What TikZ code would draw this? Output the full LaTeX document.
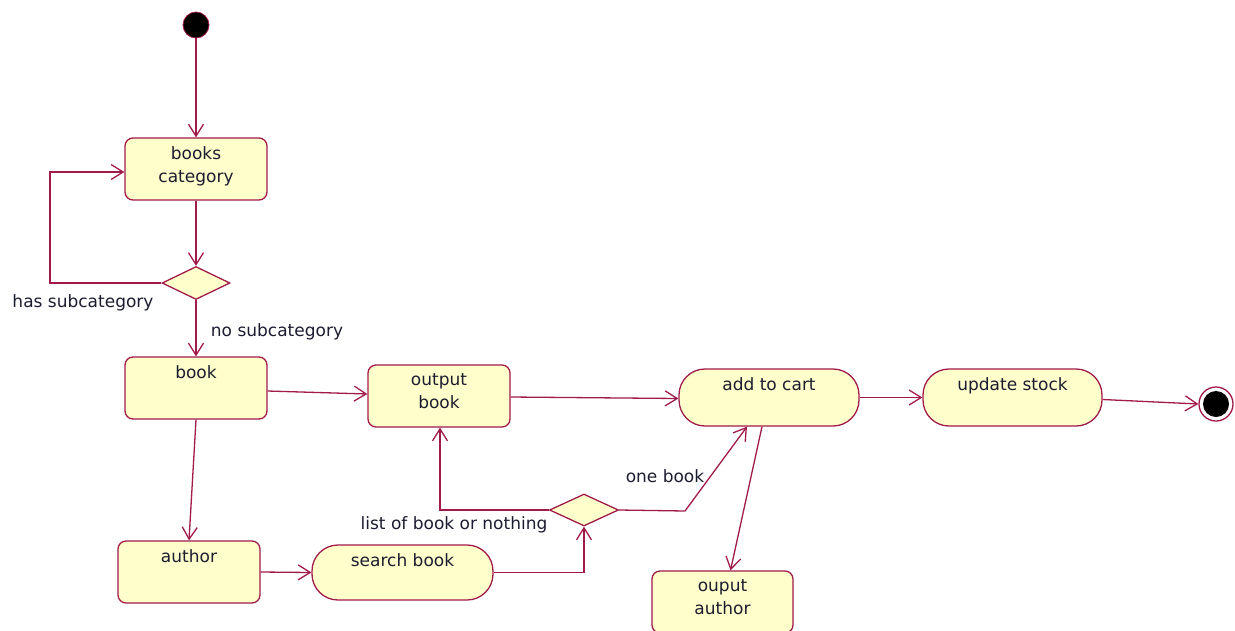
\documentclass[tikz,border=0pt]{standalone}
\usepackage{fontspec}
\setmainfont{DejaVu Sans}
\usetikzlibrary{arrows.meta,shapes.geometric,calc}
\definecolor{umlline}{RGB}{160,26,74}
\definecolor{umlfill}{RGB}{255,255,204}
\definecolor{umltext}{RGB}{28,28,48}

\begin{document}
\begin{tikzpicture}[x=1pt,y=-1pt,
  font=\fontsize{17}{23.5}\selectfont, text=umltext,
  flow/.style={draw=umlline, line width=1.3pt,
    -{Straight Barb[length=12pt,width=15pt]}},
  actbox/.style={draw=umlline, fill=umlfill, line width=1.3pt,
    rectangle, rounded corners=8pt, inner sep=0pt},
  actround/.style={draw=umlline, fill=umlfill, line width=1.3pt,
    rectangle, rounded corners=26pt, inner sep=0pt},
  decision/.style={draw=umlline, fill=umlfill, line width=1.3pt,
    diamond, inner sep=0pt},
  txt/.style={anchor=north, inner sep=0pt, yshift=-9pt, align=center,
    text=umltext},
  guard/.style={inner sep=0pt, text=umltext}
]
\useasboundingbox (0,0) rectangle (1235,630);
\clip (0,0) rectangle (1235,630);

% start and end states
\node[circle, fill=black, draw=umlline, line width=0.8pt,
  minimum size=26pt, inner sep=0pt] (start) at (196,25) {};
\node[circle, fill=white, draw=umlline, line width=1.3pt,
  minimum size=34pt, inner sep=0pt] (final) at (1216,404) {};
\node[circle, fill=black, minimum size=26pt, inner sep=0pt] (finalin) at (final.center) {};

% activities
\node[actbox, minimum width=142pt, minimum height=62pt,
  label={[txt]north:books\\category}] (cat) at (196,169) {};
\node[actbox, minimum width=142pt, minimum height=62pt,
  label={[txt]north:book}] (book) at (196,388) {};
\node[actbox, minimum width=142pt, minimum height=62pt,
  label={[txt]north:output\\book}] (obook) at (439,396) {};
\node[actround, minimum width=180pt, minimum height=57pt,
  label={[txt]north:add to cart}] (cart) at (769,397.5) {};
\node[actround, minimum width=179pt, minimum height=57pt,
  label={[txt]north:update stock}] (stock) at (1012.5,397.5) {};
\node[actbox, minimum width=142pt, minimum height=62pt,
  label={[txt]north:author}] (author) at (189,572) {};
\node[actround, minimum width=181pt, minimum height=55pt,
  label={[txt]north:search book}] (search) at (402.5,572.5) {};
\node[actbox, minimum width=141pt, minimum height=62pt,
  label={[txt]north:ouput\\author}] (oauthor) at (722.5,602) {};

% decisions
\node[decision, minimum width=68pt, minimum height=33pt] (d1) at (196,283) {};
\node[decision, minimum width=69pt, minimum height=32pt] (d2) at (584,510) {};

% guard labels
\node[guard] (lhas) at (83,303) {has subcategory};
\node[guard] (lno) at (277,332) {no subcategory};
\node[guard] (llist) at (454,525) {list of book or nothing};
\node[guard] (lone) at (665,476) {one book};

% transitions
\coordinate (loopc) at (50,283);
\coordinate (onebend) at (685,511);
\draw[flow] (start) -- (cat);
\draw[flow] (cat) -- (d1);
\draw[flow] (d1.west) -- (loopc) |- ([yshift=-3pt]cat.west);
\draw[flow] (d1) -- (book);
\draw[flow] ([yshift=-3pt]book.east) -- ([yshift=2pt]obook.west);
\draw[flow] (book.south) -- (author.north);
\draw[flow] ([yshift=-1pt]obook.east) -- ([yshift=-1pt]cart.west);
\draw[flow] (cart.east) -- (stock.west);
\draw[flow] ([yshift=-2pt]stock.east) -- (final.west);
\draw[flow] (author.east) -- (search.west);
\draw[flow] (search.east) -| (d2.south);
\draw[flow] (d2.west) -| ([xshift=1pt]obook.south);
\draw[flow] (d2.east) -- (onebend) -- ([xshift=-22pt]cart.south);
\draw[flow] ([xshift=-7pt]cart.south) -- ([xshift=8pt]oauthor.north);
\end{tikzpicture}
\end{document}
